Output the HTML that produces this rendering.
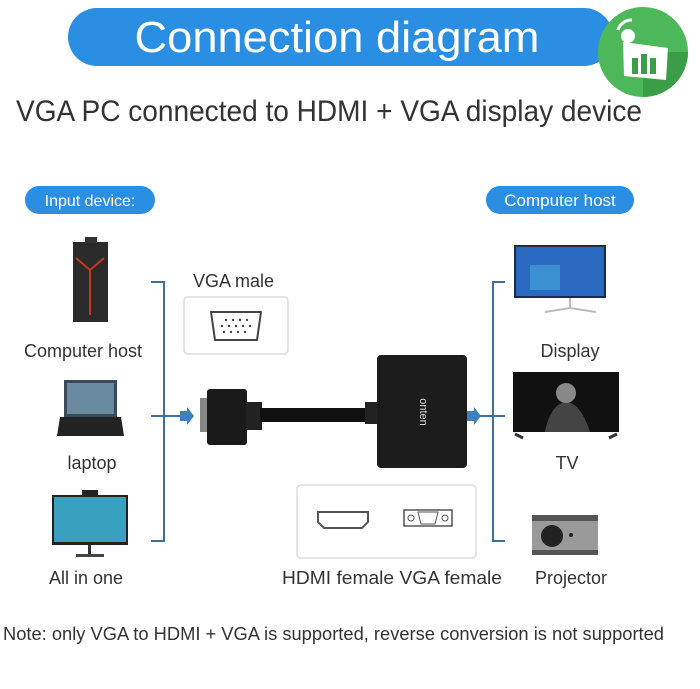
<!DOCTYPE html>
<html><head><meta charset="utf-8"><style>
html,body{margin:0;padding:0;background:#fff;width:700px;height:689px;overflow:hidden}
svg{display:block}
text{font-family:"Liberation Sans",sans-serif}
</style></head><body>
<svg width="700" height="689" viewBox="0 0 700 689" xmlns="http://www.w3.org/2000/svg">
<!-- banner -->
<rect x="68" y="8" width="545" height="58" rx="29" fill="#2a8fe2"/>
<text x="337" y="52" font-size="44" fill="#fff" text-anchor="middle" textLength="405" lengthAdjust="spacingAndGlyphs">Connection diagram</text>
<circle cx="643" cy="52" r="45" fill="#4cb85a"/>
<path d="M643 52 L688 52 A45 45 0 0 1 643 97Z" fill="#3a9e48"/>
<path d="M623 42 L668 48 L666 80 L624 76Z" fill="#fff"/>
<rect x="632" y="58" width="6" height="16" fill="#3a9e48"/><rect x="641" y="54" width="6" height="20" fill="#3a9e48"/><rect x="650" y="58" width="6" height="16" fill="#3a9e48"/>
<circle cx="628" cy="36" r="7" fill="#fff"/>
<path d="M618 30 A14 14 0 0 1 632 20" stroke="#fff" stroke-width="3" fill="none"/>
<!-- subtitle -->
<text x="16" y="121" font-size="30" fill="#333" textLength="626" lengthAdjust="spacingAndGlyphs">VGA PC connected to HDMI + VGA display device</text>
<!-- pills -->
<rect x="25" y="186" width="130" height="28" rx="14" fill="#2a8fe2"/>
<text x="90" y="206" font-size="16" fill="#fff" text-anchor="middle">Input device:</text>
<rect x="486" y="186" width="148" height="28" rx="14" fill="#2a8fe2"/>
<text x="560" y="206" font-size="17" fill="#fff" text-anchor="middle">Computer host</text>
<!-- brackets -->
<g stroke="#3f6d9c" stroke-width="2" fill="none">
<path d="M151 282 H164 V541 H151"/><path d="M151 416 H180"/>
<path d="M505 282 H493 V541 H505"/><path d="M467 416 H505"/>
</g>
<path d="M180 411 h7 v-4 l7 9 -7 9 v-4 h-7z" fill="#3f7fc0"/>
<path d="M467 411 h7 v-4 l7 9 -7 9 v-4 h-7z" fill="#3f7fc0"/>
<!-- left devices -->
<rect x="73" y="242" width="35" height="80" fill="#2a2a2a"/>
<rect x="85" y="237" width="12" height="6" fill="#333"/>
<path d="M76 258 L90 270 L104 258 M90 270 V315" stroke="#c0391f" stroke-width="2" fill="none"/>
<text x="83" y="357" font-size="18" fill="#333" text-anchor="middle">Computer host</text>
<rect x="64" y="380" width="53" height="37" fill="#3a4a5a"/>
<rect x="67" y="383" width="47" height="31" fill="#6a8aa0"/>
<path d="M60 417 H121 L124 436 H57Z" fill="#222"/>
<text x="92" y="469" font-size="18" fill="#333" text-anchor="middle">laptop</text>
<rect x="52" y="495" width="76" height="50" fill="#222"/>
<rect x="54" y="497" width="72" height="45" fill="#3aa0c0"/>
<rect x="82" y="490" width="16" height="5" fill="#222"/>
<rect x="88" y="545" width="3" height="9" fill="#333"/><rect x="76" y="554" width="28" height="3" fill="#444"/>
<text x="86" y="584" font-size="18" fill="#333" text-anchor="middle">All in one</text>
<!-- right devices -->
<rect x="514" y="245" width="92" height="53" fill="#1a2a50"/>
<rect x="516" y="247" width="88" height="49" fill="#2a6ac0"/>
<rect x="530" y="265" width="30" height="25" fill="#3a90d0"/>
<path d="M570 298 V308 M545 312 L570 308 L596 312" stroke="#bbb" stroke-width="2" fill="none"/>
<text x="570" y="357" font-size="18" fill="#333" text-anchor="middle">Display</text>
<rect x="513" y="372" width="106" height="60" fill="#111"/>
<path d="M545 432 C550 400 575 385 590 432Z" fill="#444"/>
<circle cx="566" cy="393" r="10" fill="#888"/>
<path d="M515 434 L523 438 M617 434 L609 438" stroke="#333" stroke-width="3"/>
<text x="567" y="469" font-size="18" fill="#333" text-anchor="middle">TV</text>
<rect x="532" y="515" width="66" height="40" rx="3" fill="#9a9a9a"/>
<rect x="532" y="515" width="66" height="6" fill="#555"/>
<rect x="532" y="550" width="66" height="5" fill="#555"/>
<circle cx="552" cy="536" r="11" fill="#222"/><circle cx="571" cy="535" r="2" fill="#222"/>
<text x="571" y="584" font-size="18" fill="#333" text-anchor="middle">Projector</text>
<!-- VGA male -->
<text x="193" y="287" font-size="18" fill="#333">VGA male</text>
<rect x="184" y="297" width="104" height="57" rx="4" fill="#fff" stroke="#ddd" stroke-width="1.5"/>
<path d="M211 312 H261 L257 340 H215Z" fill="none" stroke="#444" stroke-width="2" stroke-linejoin="round"/>
<g fill="#444"><circle cx="226" cy="320" r="1.2"/><circle cx="233" cy="320" r="1.2"/><circle cx="240" cy="320" r="1.2"/><circle cx="247" cy="320" r="1.2"/>
<circle cx="222" cy="326" r="1.2"/><circle cx="229" cy="326" r="1.2"/><circle cx="236" cy="326" r="1.2"/><circle cx="243" cy="326" r="1.2"/><circle cx="250" cy="326" r="1.2"/>
<circle cx="224" cy="332" r="1.2"/><circle cx="231" cy="332" r="1.2"/><circle cx="238" cy="332" r="1.2"/><circle cx="245" cy="332" r="1.2"/></g>
<!-- adapter -->
<rect x="200" y="398" width="10" height="34" fill="#888"/>
<rect x="207" y="389" width="40" height="56" rx="3" fill="#1a1a1a"/>
<rect x="246" y="402" width="16" height="28" fill="#222"/>
<rect x="260" y="408" width="110" height="14" fill="#111"/>
<rect x="365" y="402" width="14" height="22" fill="#222"/>
<rect x="377" y="355" width="90" height="113" rx="4" fill="#1c1c1c"/>
<text x="420" y="412" font-size="11" fill="#ddd" transform="rotate(90 420 412)" text-anchor="middle">onten</text>
<!-- female box -->
<rect x="297" y="485" width="179" height="73" rx="4" fill="#fff" stroke="#ddd" stroke-width="1.5"/>
<path d="M318 512 H368 V522 L362 528 H324 L318 522Z" fill="none" stroke="#555" stroke-width="2"/>
<path d="M404 510 H452 V526 H404Z" fill="none" stroke="#555" stroke-width="1.5" rx="3"/>
<circle cx="411" cy="518" r="3" fill="none" stroke="#555"/><circle cx="445" cy="518" r="3" fill="none" stroke="#555"/>
<path d="M418 512 H438 L435 524 H421Z" fill="none" stroke="#555"/>
<text x="282" y="584" font-size="18" fill="#333" textLength="220" lengthAdjust="spacingAndGlyphs">HDMI female VGA female</text>
<!-- note -->
<text x="3" y="640" font-size="18" fill="#333" textLength="661" lengthAdjust="spacingAndGlyphs">Note: only VGA to HDMI + VGA is supported, reverse conversion is not supported</text>
</svg>
</body></html>
